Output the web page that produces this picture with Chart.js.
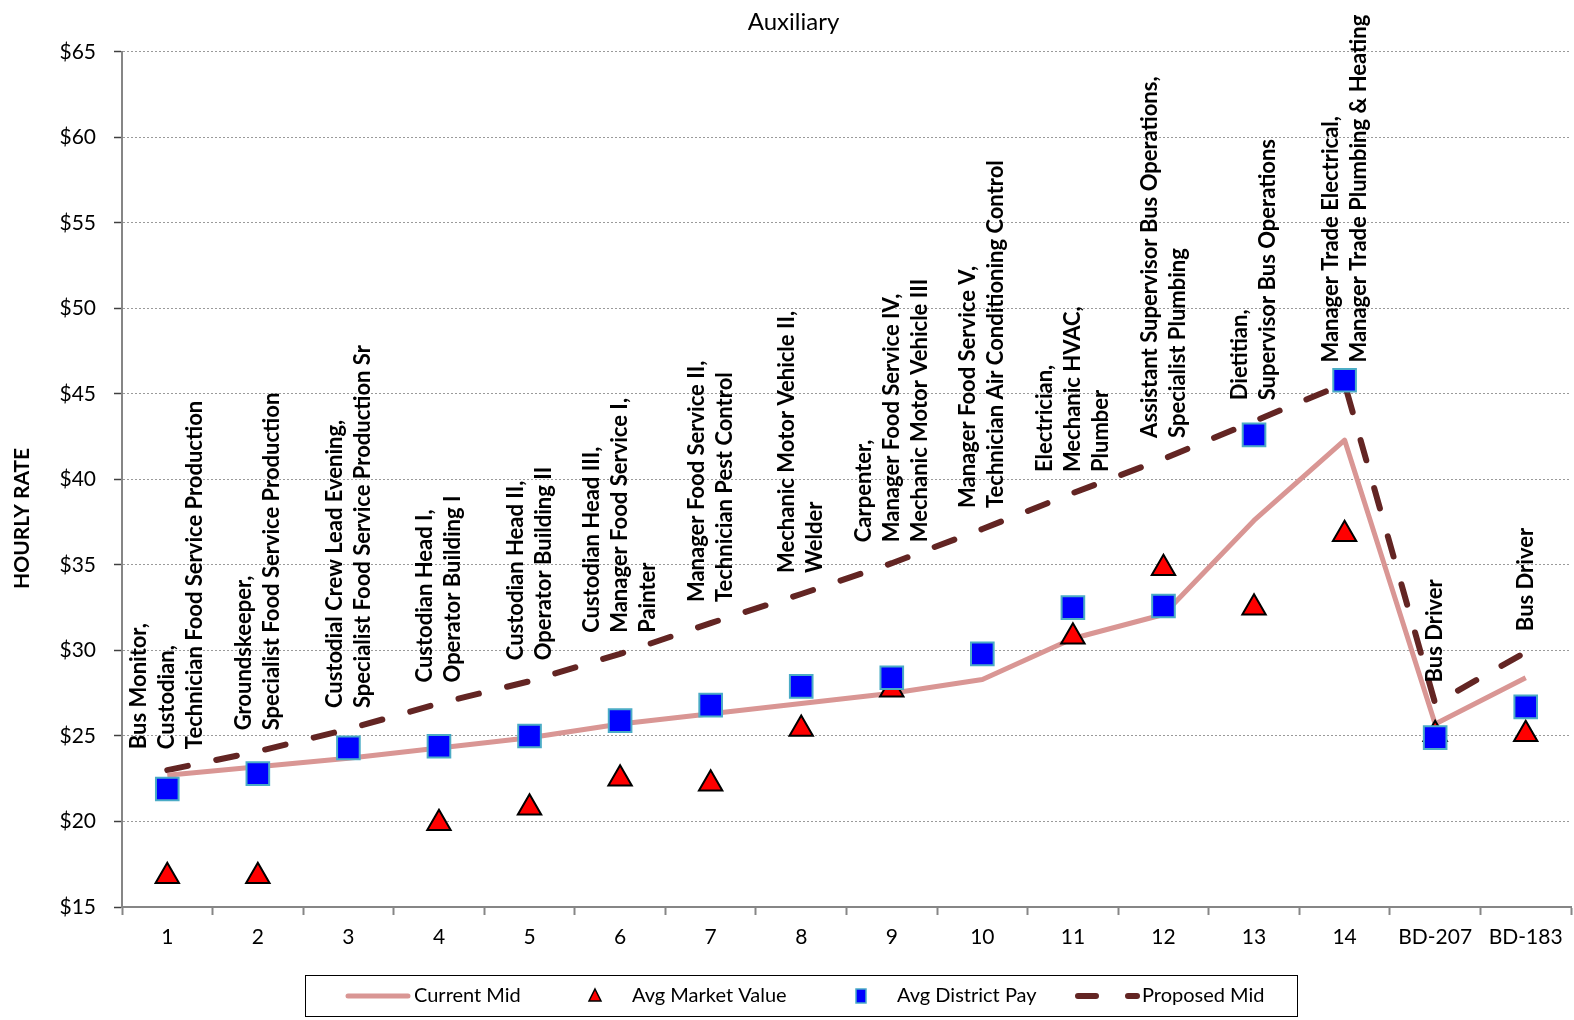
<!DOCTYPE html>
<html>
<head>
<meta charset="utf-8">
<script src="https://cdn.jsdelivr.net/npm/chart.js@4.4.0/dist/chart.umd.min.js"></script>
<style>
  html, body { margin: 0; padding: 0; background: #fff; }
  #wrap { width: 1574px; height: 1020px; }
</style>
</head>
<body>
<div id="wrap"><canvas id="canvasID"></canvas></div>
<script>
// categories on the x axis
const categories = ['1', '2', '3', '4', '5', '6', '7', '8', '9', '10', '11', '12', '13', '14', 'BD-207', 'BD-183']

// series (hourly rate, $)
const currentMid = [22.7, 23.2, 23.7, 24.3, 24.9, 25.7, 26.3, 26.9, 27.5, 28.3, 30.7, 32.1, 37.6, 42.3, 25.7, 28.4]
const avgMarketValue = [16.8, 16.8, null, 19.9, 20.8, 22.5, 22.2, 25.4, 27.7, null, 30.8, 34.8, 32.5, 36.8, 25.1, 25.1]
const avgDistrictPay = [21.9, 22.8, 24.3, 24.4, 25.0, 25.9, 26.8, 27.9, 28.4, 29.8, 32.5, 32.6, 42.6, 45.8, 24.9, 26.7]
const proposedMid = [23.0, 24.1, 25.4, 26.9, 28.2, 29.8, 31.6, 33.3, 35.1, 37.1, 39.2, 41.2, 43.4, 45.6, 26.9, 29.9]

// job titles shown above each group
const groupLabels = [
  ['Bus Monitor,', 'Custodian,', 'Technician Food Service Production'],
  ['Groundskeeper,', 'Specialist Food Service Production'],
  ['Custodial Crew Lead Evening,', 'Specialist Food Service Production Sr'],
  ['Custodian Head I,', 'Operator Building I'],
  ['Custodian Head II,', 'Operator Building II'],
  ['Custodian Head III,', 'Manager Food Service I,', 'Painter'],
  ['Manager Food Service II,', 'Technician Pest Control'],
  ['Mechanic Motor Vehicle II,', 'Welder'],
  ['Carpenter,', 'Manager Food Service IV,', 'Mechanic Motor Vehicle III'],
  ['Manager Food Service V,', 'Technician Air Conditioning Control'],
  ['Electrician,', 'Mechanic HVAC,', 'Plumber'],
  ['Assistant Supervisor Bus Operations,', 'Specialist Plumbing'],
  ['Dietitian,', 'Supervisor Bus Operations'],
  ['Manager Trade Electrical,', 'Manager Trade Plumbing & Heating'],
  ['Bus Driver'],
  ['Bus Driver'],
]

const FONT = 'Lato, "Open Sans", sans-serif'
const PINK = '#D99694'
const BROWN = '#632523'

////////////////////////////////////////////////
// rotated job titles over the Proposed Mid points
////////////////////////////////////////////////
const groupLabelPlugin = {
  id: 'groupLabels',
  afterDatasetsDraw(chart) {
    const ctx = chart.ctx
    const meta = chart.getDatasetMeta(3)
    ctx.save()
    ctx.font = 'bold 22px ' + FONT
    ctx.fillStyle = '#000'
    ctx.textAlign = 'left'
    ctx.textBaseline = 'middle'
    meta.data.forEach((pt, i) => {
      const lines = groupLabels[i]
      ctx.save()
      ctx.translate(pt.x, pt.y - 21)
      ctx.rotate(-Math.PI / 2)
      lines.forEach((line, j) => {
        ctx.fillText(line, 0, (j - (lines.length - 1) / 2) * 28)
      })
      ctx.restore()
    })
    ctx.restore()
  },
}

////////////////////////////////////////////////
// y title + boxed legend
////////////////////////////////////////////////
const extrasPlugin = {
  id: 'extras',
  afterDraw(chart) {
    const ctx = chart.ctx
    const area = chart.chartArea
    ctx.save()
    ctx.font = 'bold 21px ' + FONT
    ctx.fillStyle = '#000'
    ctx.textAlign = 'center'
    ctx.textBaseline = 'middle'
    ctx.translate(22, (area.top + area.bottom) / 2 + 39)
    ctx.rotate(-Math.PI / 2)
    ctx.fillText('HOURLY RATE', 0, 0)
    ctx.restore()

    const ds = chart.data.datasets
    const top = 975
    const cy = top + 21
    ctx.save()
    ctx.strokeStyle = '#000'
    ctx.lineWidth = 1
    ctx.strokeRect(305.5, top + 0.5, 992, 41)

    ctx.font = '20px ' + FONT
    ctx.fillStyle = '#000'
    ctx.textAlign = 'left'
    ctx.textBaseline = 'middle'

    // Current Mid
    ctx.strokeStyle = PINK
    ctx.lineWidth = 5
    ctx.lineCap = 'round'
    ctx.beginPath()
    ctx.moveTo(348, cy)
    ctx.lineTo(408, cy)
    ctx.stroke()
    ctx.fillText(ds[0].label, 414, cy)

    // Avg Market Value
    ctx.fillStyle = '#FF0000'
    ctx.strokeStyle = '#000'
    ctx.lineWidth = 1.5
    ctx.lineCap = 'butt'
    ctx.beginPath()
    ctx.moveTo(595, cy - 7)
    ctx.lineTo(601, cy + 5)
    ctx.lineTo(589, cy + 5)
    ctx.closePath()
    ctx.fill()
    ctx.stroke()
    ctx.fillStyle = '#000'
    ctx.fillText(ds[1].label, 632, cy)

    // Avg District Pay
    ctx.fillStyle = '#0000FF'
    ctx.strokeStyle = '#4BACC6'
    ctx.fillRect(856, cy - 7, 10, 14)
    ctx.strokeRect(856, cy - 7, 10, 14)
    ctx.fillStyle = '#000'
    ctx.fillText(ds[2].label, 897, cy)

    // Proposed Mid
    ctx.strokeStyle = BROWN
    ctx.lineWidth = 6
    ctx.lineCap = 'round'
    ctx.beginPath()
    ctx.moveTo(1078, cy)
    ctx.lineTo(1096, cy)
    ctx.moveTo(1128, cy)
    ctx.lineTo(1137, cy)
    ctx.stroke()
    ctx.fillText(ds[3].label, 1142, cy)
    ctx.restore()
  },
}

new Chart(document.getElementById('canvasID'), {
  type: 'line',
  data: {
    labels: categories,
    datasets: [
      {
        label: 'Current Mid',
        data: currentMid,
        borderColor: PINK,
        borderWidth: 5,
        borderJoinStyle: 'round',
        pointRadius: 0,
        order: 2,
      },
      {
        label: 'Avg Market Value',
        data: avgMarketValue,
        showLine: false,
        pointStyle: 'triangle',
        pointRadius: 13.5,
        pointBackgroundColor: '#FF0000',
        pointBorderColor: '#000',
        pointBorderWidth: 2,
        order: 1,
      },
      {
        label: 'Avg District Pay',
        data: avgDistrictPay,
        showLine: false,
        pointStyle: 'rect',
        pointRadius: 16,
        pointBackgroundColor: '#0000FF',
        pointBorderColor: '#4BACC6',
        pointBorderWidth: 2,
        order: 0,
      },
      {
        label: 'Proposed Mid',
        data: proposedMid,
        borderColor: BROWN,
        borderWidth: 6,
        borderDash: [21, 29],
        borderCapStyle: 'round',
        pointRadius: 0,
        order: 3,
      },
    ],
  },
  options: {
    responsive: true,
    maintainAspectRatio: false,
    animation: false,
    layout: { autoPadding: false, padding: { left: 16, right: 3, top: 0, bottom: 69 } },
    scales: {
      x: {
        offset: true,
        grid: {
          drawOnChartArea: false,
          offset: true,
          tickLength: 8,
          tickColor: '#868686',
          tickWidth: 2,
        },
        border: { color: '#868686', width: 2 },
        ticks: {
          font: { family: FONT, size: 21 },
          color: '#000',
          padding: 10,
          maxRotation: 0,
          autoSkip: false,
        },
        afterFit: (scale) => {
          scale.height = 44
          scale.paddingLeft = 0
          scale.paddingRight = 0
        },
      },
      y: {
        min: 15,
        max: 65,
        ticks: {
          stepSize: 5,
          callback: (v) => '$' + v,
          font: { family: FONT, size: 21 },
          color: '#000',
          padding: 18,
        },
        grid: {
          color: '#9a9a9a',
          lineWidth: 1,
          tickLength: 8,
          tickColor: '#404040',
          tickWidth: 1.5,
        },
        border: { color: '#868686', width: 2, dash: [2, 2] },
        afterFit: (scale) => {
          scale.width = 106
        },
      },
    },
    plugins: {
      legend: { display: false },
      tooltip: { enabled: false },
      title: {
        display: true,
        text: 'Auxiliary',
        color: '#000',
        font: { family: FONT, size: 24, weight: 'normal' },
        padding: { top: 8, bottom: 15 },
      },
    },
  },
  plugins: [groupLabelPlugin, extrasPlugin],
})
</script>
</body>
</html>
